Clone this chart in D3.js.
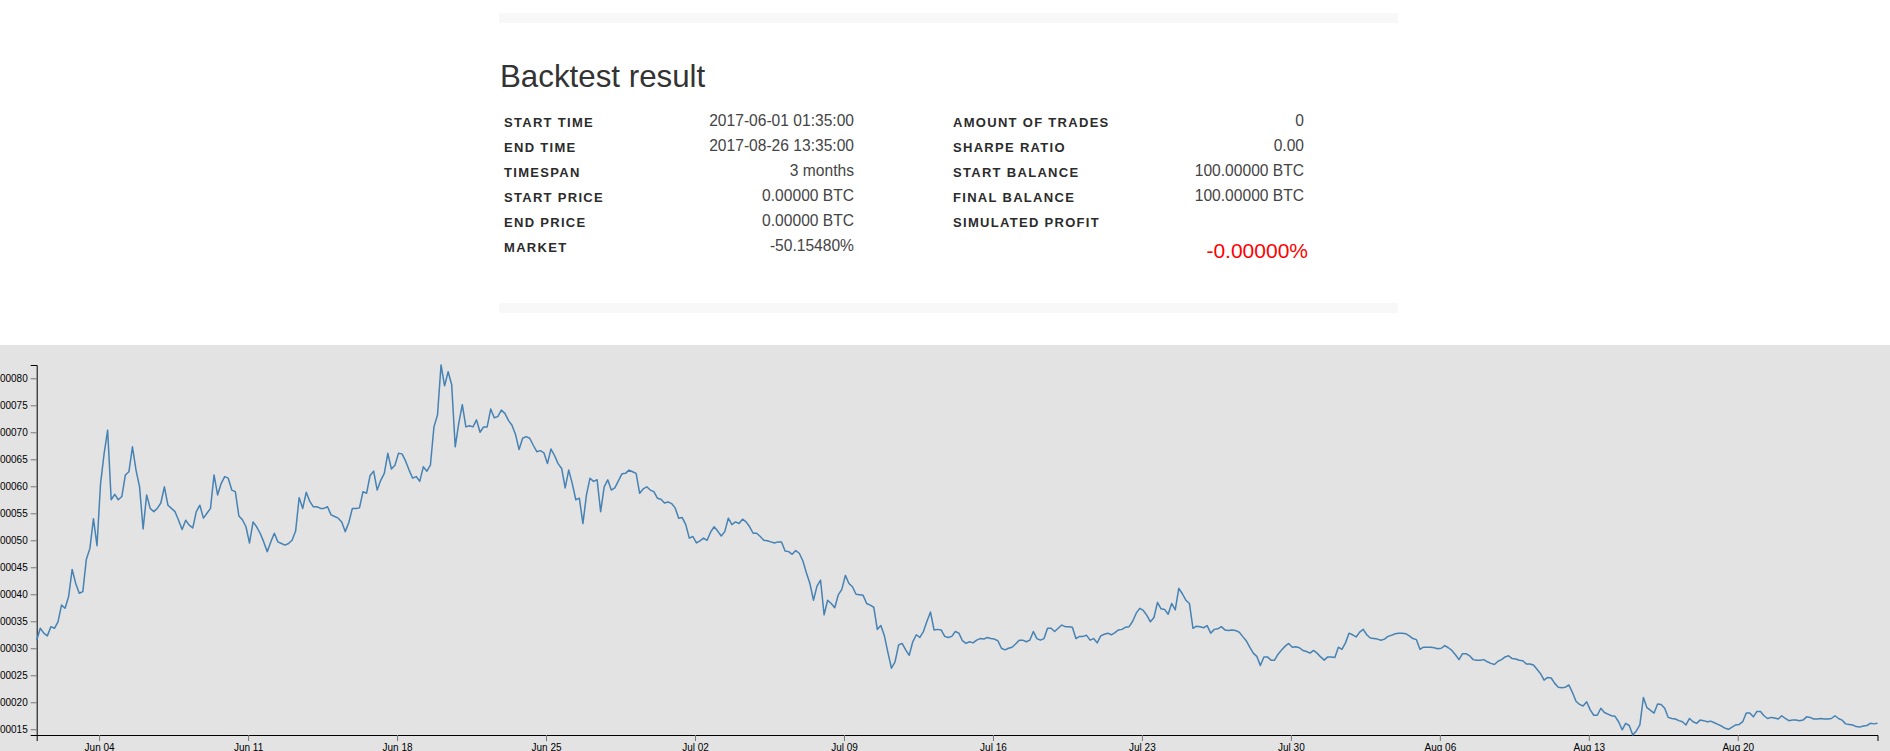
<!DOCTYPE html>
<html>
<head>
<meta charset="utf-8">
<script src="https://cdn.jsdelivr.net/npm/d3@7"></script>
<style>
  body { margin: 0; overflow: hidden; background: #fff; }
  svg { display: block; }
  .label { font-family: "Liberation Sans", Arial, sans-serif; font-weight: bold; font-size: 13px; letter-spacing: 1.3px; fill: #2b2b2b; }
  .value { font-family: "Liberation Sans", Arial, sans-serif; font-size: 15.6px; fill: #444; }
  .axis text { font-family: "Liberation Sans", Arial, sans-serif; font-size: 10px; fill: #000; }
  .axis .tick line { stroke: #777; }
  .axis .domain { stroke: #000; }
</style>
</head>
<body>
<div id="result"></div>
<div id="chart"></div>
<script>

// summary table
var leftLabels = ["START TIME", "END TIME", "TIMESPAN", "START PRICE", "END PRICE", "MARKET"];
var leftValues = ["2017-06-01 01:35:00", "2017-08-26 13:35:00", "3 months", "0.00000 BTC", "0.00000 BTC", "-50.15480%"];
var rightLabels = ["AMOUNT OF TRADES", "SHARPE RATIO", "START BALANCE", "FINAL BALANCE", "SIMULATED PROFIT"];
var rightValues = ["0", "0.00", "100.00000 BTC", "100.00000 BTC", ""];
var profitText = "-0.00000%";

// candles: one reading every 4 hours from the start time
var startTime = "2017-06-01 01:35";
var stepHours = 4;
var PRICE_UNIT = 1e-5; // prices below are in units of 0.00001 BTC
var prices = [
  // Jun 1 - Jun 5
  31.5, 33.7, 32.8, 32.3, 34.0, 33.7, 34.9, 38.0, 37.4, 39.6, 44.6, 42.0, 40.2, 40.5, 46.5, 48.5,
  54.0, 49.0, 60.5, 66.0, 70.4, 57.5, 58.5, 57.5, 58.1, 62.1, 62.7, 67.3, 63.0, 59.9, 52.1, 58.4,
  55.9, 55.3, 55.9, 56.9, 59.9, 56.5, 55.9, 55.3, 53.7, 52.0, 53.7, 52.8, 52.3, 55.3, 56.5, 54.1,
  55.0, 55.9, 62.1, 58.4, 60.5, 61.8, 61.5, 59.3, 59.0, 54.5, 53.8, 52.5, 49.5, 53.4, 52.5, 51.3,
  49.7, 47.9, 49.7, 51.3, 49.7, 49.4, 49.1, 49.4, 50.0, 51.7, 57.9, 55.9, 58.9, 57.2, 56.2, 56.2,
  55.9, 55.9, 56.2, 54.7, 54.4, 54.1, 53.4, 51.6, 53.3, 55.9, 55.9, 56.0, 59.0, 58.7, 62.0, 62.8,
  59.3, 61.1, 62.4, 66.1, 63.2, 63.9, 66.1, 66.0, 64.7, 63.0,
  // Jun 18 - Jul 5
  61.5, 61.8, 60.9, 63.6, 62.8, 63.9, 71.0, 73.2, 82.46, 78.6, 81.2, 78.8, 67.3, 71.7, 75.1, 71.0,
  71.2, 71.0, 72.3, 70.0, 71.0, 71.0, 74.3, 72.7, 72.9, 74.1, 73.5, 72.2, 71.3, 69.6, 66.8, 68.9,
  69.2, 68.9, 67.6, 66.4, 66.6, 66.2, 64.2, 66.9, 65.7, 64.2, 63.3, 59.7, 63.0, 60.5, 57.5, 57.8,
  53.1, 58.4, 61.5, 60.9, 61.2, 55.3, 59.9, 61.2, 59.3, 59.7, 61.0, 62.3, 62.4, 63.0, 62.7, 62.4,
  58.7, 59.5, 59.9, 59.3, 59.0, 57.8, 57.6, 56.9, 57.1, 56.8, 56.0, 54.1, 54.2, 52.9, 50.4, 50.7,
  49.5, 49.9, 50.4, 50.0, 51.5, 52.5, 51.7, 50.8, 51.6, 54.1, 52.9, 53.4, 53.1, 53.9, 53.4, 52.5,
  51.3, 51.3, 50.7, 50.0, 49.9, 49.7, 49.5, 49.7,
  // Jul 5 - Jul 23
  49.7, 48.0, 47.9, 47.4, 48.1, 47.6, 46.2, 44.0, 42.0, 38.9, 41.5, 42.6, 36.2, 38.9, 38.3, 37.5,
  39.9, 40.9, 43.5, 42.0, 41.4, 40.0, 39.9, 39.8, 38.3, 38.0, 37.6, 33.5, 34.2, 32.3, 29.2, 26.3,
  27.5, 30.6, 30.9, 29.7, 28.7, 31.2, 32.5, 32.0, 33.1, 35.0, 36.7, 33.4, 33.5, 33.4, 32.2, 32.0,
  32.2, 33.1, 32.8, 31.4, 30.9, 31.2, 31.0, 31.5, 31.8, 31.7, 32.0, 31.8, 31.7, 31.4, 30.0, 29.7,
  30.0, 30.2, 30.8, 31.5, 31.5, 31.2, 31.5, 33.1, 31.8, 31.5, 31.8, 33.7, 33.7, 33.1, 33.7, 34.3,
  34.0, 34.0, 33.9, 31.8, 32.2, 32.2, 32.4, 31.5, 31.8, 31.0, 32.3, 32.6, 32.8, 32.5, 32.9, 33.4,
  33.5, 33.9, 34.0, 35.0, 36.5, 37.4,
  // Jul 23 - Aug 10
  37.0, 36.1, 34.9, 35.7, 38.5, 37.3, 37.2, 36.3, 38.3, 37.1, 41.1, 40.1, 38.9, 38.3, 33.7, 34.1,
  34.0, 33.8, 34.2, 32.8, 33.5, 33.6, 34.0, 33.4, 33.3, 33.4, 33.3, 33.0, 32.2, 31.4, 30.2, 29.1,
  28.5, 26.8, 28.4, 28.4, 27.8, 27.8, 28.9, 29.7, 30.4, 30.9, 30.2, 30.3, 30.1, 29.6, 29.4, 29.1,
  29.6, 29.1, 28.4, 27.8, 28.4, 28.4, 28.3, 30.2, 29.8, 31.0, 32.8, 32.5, 32.1, 33.0, 33.5, 32.5,
  31.9, 31.8, 31.7, 31.5, 31.7, 32.2, 32.4, 32.7, 32.8, 32.8, 32.7, 32.3, 31.8, 31.6, 29.8, 30.2,
  30.2, 30.2, 30.1, 29.9, 30.0, 30.5, 30.1, 29.6, 28.8, 27.9, 29.0, 29.0, 28.6, 27.9, 27.8, 27.8,
  27.9, 27.5, 27.2, 27.0, 27.6, 27.9, 28.4, 28.6,
  // Aug 10 - Aug 26
  28.1, 28.0, 27.8, 27.7, 27.1, 27.1, 26.9, 26.1, 25.3, 24.1, 24.6, 24.5, 23.5, 22.8, 22.7, 22.8,
  23.2, 21.8, 20.2, 19.6, 19.3, 20.1, 18.6, 17.6, 17.6, 18.9, 18.1, 17.8, 17.5, 17.4, 16.4, 14.9,
  16.1, 15.7, 13.94, 14.7, 15.8, 20.9, 19.0, 18.5, 18.0, 19.7, 19.6, 18.9, 17.2, 17.0, 16.9, 16.6,
  16.4, 15.8, 17.0, 16.4, 16.1, 16.7, 16.6, 16.4, 16.5, 16.2, 15.9, 15.6, 15.2, 15.0, 15.4, 15.8,
  15.9, 16.4, 18.0, 18.0, 17.3, 18.3, 18.3, 17.5, 17.0, 17.2, 17.1, 16.9, 17.5, 17.0, 16.6, 16.7,
  16.7, 16.6, 16.7, 17.3, 17.2, 16.9, 16.9, 17.0, 16.9, 16.9, 17.0, 17.5, 17.0, 16.7, 16.0, 15.9,
  15.8, 15.5, 15.4, 15.6, 15.7, 16.1, 16.0, 16.1
];

function drawResult(elt) {
    var svg = d3.select(elt).append("svg").attr("width", 1890).attr("height", 345);

    svg.append("rect").attr("x", 499).attr("y", 13).attr("width", 899).attr("height", 10).attr("fill", "#f8f8f8");
    svg.append("rect").attr("x", 499).attr("y", 303).attr("width", 899).attr("height", 10).attr("fill", "#f8f8f8");

    svg.append("text")
        .attr("x", 500).attr("y", 87)
        .attr("font-family", "'Liberation Sans', Arial, sans-serif")
        .attr("font-size", 31.3).attr("fill", "#333")
        .text("Backtest result");

    function column(labels, values, lx, vx) {
        var rows = svg.append("g").selectAll("g").data(labels).enter().append("g")
            .attr("transform", function(d, i) { return "translate(0," + (126.7 + i * 25) + ")"; });
        rows.append("text").attr("class", "label").attr("x", lx).text(function(d) { return d; });
        rows.append("text").attr("class", "value").attr("x", vx).attr("y", -0.7)
            .attr("text-anchor", "end")
            .text(function(d, i) { return values[i]; });
    }
    column(leftLabels, leftValues, 504, 854);
    column(rightLabels, rightValues, 953, 1304);

    svg.append("text")
        .attr("x", 1308).attr("y", 258.3).attr("text-anchor", "end")
        .attr("font-family", "'Liberation Sans', Arial, sans-serif")
        .attr("font-size", 21).attr("fill", "#f00")
        .text(profitText);
}

function drawChart(elt) {
    var margin = {top: 20, right: 12.5, bottom: 16, left: 36.7};
    var W = 1890, H = 406;
    var width = W - margin.left - margin.right;
    var height = H - margin.top - margin.bottom;

    var t0 = d3.timeParse("%Y-%m-%d %H:%M")(startTime);
    var data = prices.map(function(p, i) {
        return {date: d3.timeHour.offset(t0, i * stepHours), price: p * PRICE_UNIT};
    });

    var x = d3.scaleTime().domain(d3.extent(data, function(d) { return d.date; })).range([0, width]);
    var y = d3.scaleLinear().domain(d3.extent(data, function(d) { return d.price; })).range([height, 0]);

    var svg = d3.select(elt).append("svg").attr("width", W).attr("height", H)
        .style("background", "#e3e3e3");
    var g = svg.append("g").attr("transform", "translate(" + margin.left + "," + margin.top + ")");

    g.append("g").attr("class", "axis")
        .attr("transform", "translate(0," + height + ")")
        .call(d3.axisBottom(x));
    g.append("g").attr("class", "axis")
        .call(d3.axisLeft(y));
    g.selectAll(".axis").attr("font-family", null).attr("font-size", null);

    var line = d3.line()
        .x(function(d) { return x(d.date); })
        .y(function(d) { return y(d.price); });

    g.append("path")
        .datum(data)
        .attr("fill", "none")
        .attr("stroke", "steelblue")
        .attr("stroke-width", 1.5)
        .attr("stroke-linejoin", "round")
        .attr("d", line);
}

drawResult("#result");
drawChart("#chart");
</script>
</body>
</html>
